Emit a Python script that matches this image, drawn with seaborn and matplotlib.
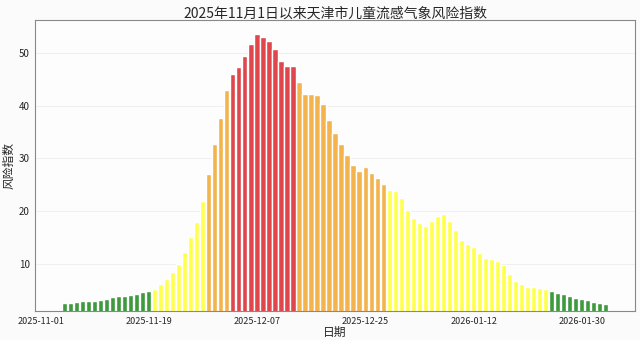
import matplotlib
matplotlib.use("Agg")
import matplotlib.pyplot as plt
import seaborn as sns
import pandas as pd

# ---- data ----
dates = pd.date_range("2025-11-01", "2026-01-30", freq="D").strftime("%Y-%m-%d").tolist()
risk = [
    # 11-01 .. 11-15 (green)
    2.6, 2.6, 2.8, 2.9, 3.0, 3.0, 3.2, 3.3, 3.6, 3.8, 3.9, 4.0, 4.3, 4.6, 4.8,
    # 11-16 .. 11-24 (yellow)
    5.2, 6.2, 7.1, 8.4, 10.0, 12.2, 15.1, 18.0, 22.0,
    # 11-25 .. 11-28 (orange)
    27.1, 32.7, 37.6, 43.1,
    # 11-29 .. 12-09 (red)
    46.1, 47.4, 49.5, 51.8, 53.6, 53.1, 52.4, 50.8, 48.6, 47.5, 47.5,
    # 12-10 .. 12-24 (orange)
    44.6, 42.3, 42.3, 42.0, 40.3, 37.4, 34.8, 32.8, 30.6, 28.7, 27.7, 28.3, 27.2, 26.2, 25.1,
    # 12-25 .. 01-20 (yellow)
    24.1, 23.8, 22.4, 20.3, 18.6, 17.7, 17.1, 18.2, 19.0, 19.5, 18.2, 16.5, 14.6, 13.7,
    13.2, 12.0, 11.1, 10.9, 10.6, 9.7, 8.1, 6.8, 6.1, 5.6, 5.5, 5.3, 5.2,
    # 01-21 .. 01-30 (green)
    4.8, 4.5, 4.2, 3.8, 3.5, 3.3, 3.1, 2.8, 2.5, 2.4,
]
level_names = ["低", "中", "较高", "高"]
thresholds = [5, 25, 45]
level_colors = {"低": "#3d9a3d", "中": "#ffff4d", "较高": "#f3b44e", "高": "#e0474c"}

def level_of(v):
    for t, name in zip(thresholds, level_names):
        if v < t:
            return name
    return level_names[-1]

df = pd.DataFrame({"日期": dates, "风险指数": risk})
df["等级"] = [level_of(v) for v in risk]

# ---- style ----
sns.set_style("white")
plt.rcParams["font.family"] = ["Noto Sans CJK SC", "DejaVu Sans"]
plt.rcParams["axes.unicode_minus"] = False

fig = plt.figure(figsize=(6.4, 3.4), dpi=100, facecolor="#fbfbfc")
ax = fig.add_axes([0.055, 0.085, 0.937, 0.856])
ax.set_facecolor("#fdfdfe")

sns.barplot(data=df, x="日期", y="风险指数", hue="等级", palette=level_colors,
            dodge=False, saturation=1, width=0.86, legend=False, ax=ax)

ax.set_xlim(-4.9, 94.9)
ax.set_ylim(1.0, 56.3)
ax.set_yticks([10, 20, 30, 40, 50])
ax.yaxis.grid(True, color="#eeeeee", linewidth=0.6)
ax.set_axisbelow(True)

tick_pos = list(range(0, len(dates), 18))
ax.set_xticks(tick_pos)
ax.set_xticklabels([dates[i] for i in tick_pos], ha="right", fontsize=6.5)
ax.tick_params(axis="y", labelsize=7, length=2.5, width=0.6, pad=1.5, color="#666666")
ax.tick_params(axis="x", length=2.5, width=0.6, pad=1.5, color="#666666")

for s in ax.spines.values():
    s.set_color("#888888")
    s.set_linewidth(0.8)

ax.set_title("2025年11月1日以来天津市儿童流感气象风险指数", fontsize=10, pad=2)
ax.set_xlabel("日期", fontsize=8.5, labelpad=0)
ax.set_ylabel("风险指数", fontsize=8.5, labelpad=2)

fig.savefig("out.png", dpi=100, facecolor=fig.get_facecolor())
